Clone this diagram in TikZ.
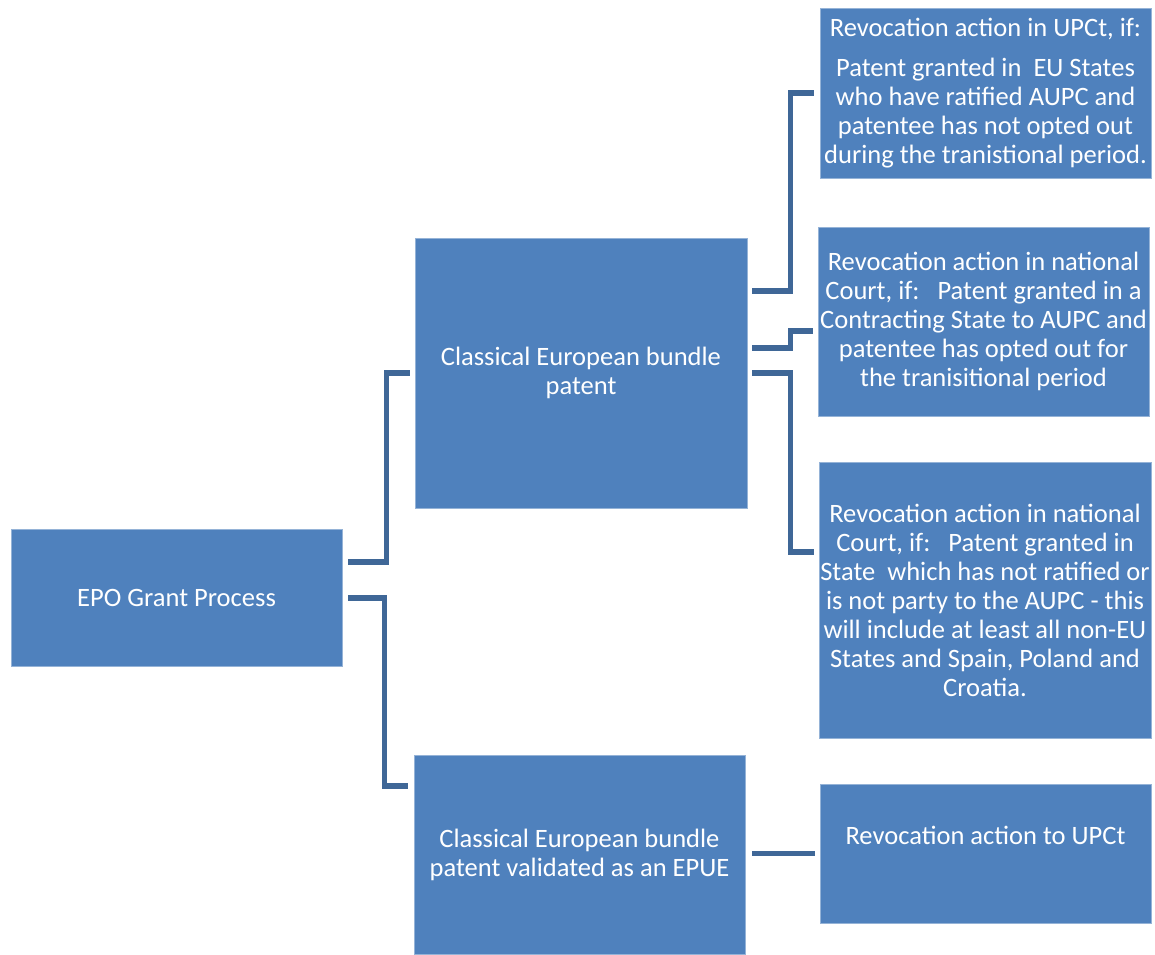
\documentclass[tikz,border=0pt]{standalone}
\usepackage{fontspec}
\setmainfont{Carlito}
\usetikzlibrary{calc}
\definecolor{boxblue}{HTML}{4F81BD}
\definecolor{linkblue}{HTML}{3F6797}
\tikzset{
  box/.style={fill=boxblue, draw=boxblue!60!white, line width=0.5pt, text=white, align=center,
    inner sep=0pt, font=\fontsize{19.9}{21.75}\selectfont},
  conn/.style={draw=linkblue, line width=4pt, line cap=butt, line join=miter},
}
\begin{document}
\begin{tikzpicture}[x=0.75pt, y=-0.75pt]
\useasboundingbox (0,0) rectangle (1155,954);
% boxes
\node[box, minimum width=248.25pt, minimum height=102.75pt] (epo) at (176.5,597.5) {EPO Grant Process};
\node[box, minimum width=249pt, minimum height=202.5pt] (b1) at (581,373) {Classical European bundle\\patent};
\node[box, minimum width=248.25pt, minimum height=149.25pt] (b2) at (579.5,854.5) {Classical European bundle\\patent validated as an EPUE};
\node[box, minimum width=248.25pt, minimum height=127.5pt] (r1) at (985.5,93) {Revocation action in UPCt, if:\\[8pt]Patent granted in\ \ EU States\\who have ratified AUPC and\\patentee has not opted out\\during the tranistional period.};
\node[box, minimum width=248.25pt, minimum height=141.75pt] (r2) at (983.5,321.5) {Revocation action in national\\Court, if:\ \ \ Patent granted in a\\Contracting State to AUPC and\\patentee has opted out for\\the tranisitional period};
\node[box, minimum width=249pt, minimum height=207pt] (r3) at (985,600) {Revocation action in national\\Court, if:\ \ \ Patent granted in\\State\ \ which has not ratified or\\is not party to the AUPC - this\\will include at least all non-EU\\States and Spain, Poland and\\Croatia.};
\node[box, minimum width=248.25pt, minimum height=104.25pt] (r4) at (985.5,853.5) {};
\node[text=white, font=\fontsize{19.9}{21.75}\selectfont, inner sep=0pt] (r4t) at ($(r4.north)+(0,52)$) {Revocation action to UPCt};
% connectors
\draw[conn] ($(epo.east)+(6,-35.5)$) -| ($(b1.west)+(-28,0)$) -- ($(b1.west)+(-5,0)$);
\draw[conn] ($(epo.east)+(6,0.5)$) -| ($(b2.west)+(-29,-68.5)$) -- ($(b2.west)+(-6,-68.5)$);
\draw[conn] ($(b1.east)+(5,-82)$) -| ($(r1.west)+(-29,0)$) -- ($(r1.west)+(-6,0)$);
\draw[conn] ($(b1.east)+(5,-25)$) -| ($(r2.west)+(-27,9.5)$) -- ($(r2.west)+(-5,9.5)$);
\draw[conn] ($(b1.east)+(5,0)$) -| ($(r3.west)+(-28,-48)$) -- ($(r3.west)+(-5,-48)$);
\draw[conn] ($(b2.east)+(7,-1)$) -- ($(r4.west)+(-5,0)$);
\end{tikzpicture}
\end{document}
